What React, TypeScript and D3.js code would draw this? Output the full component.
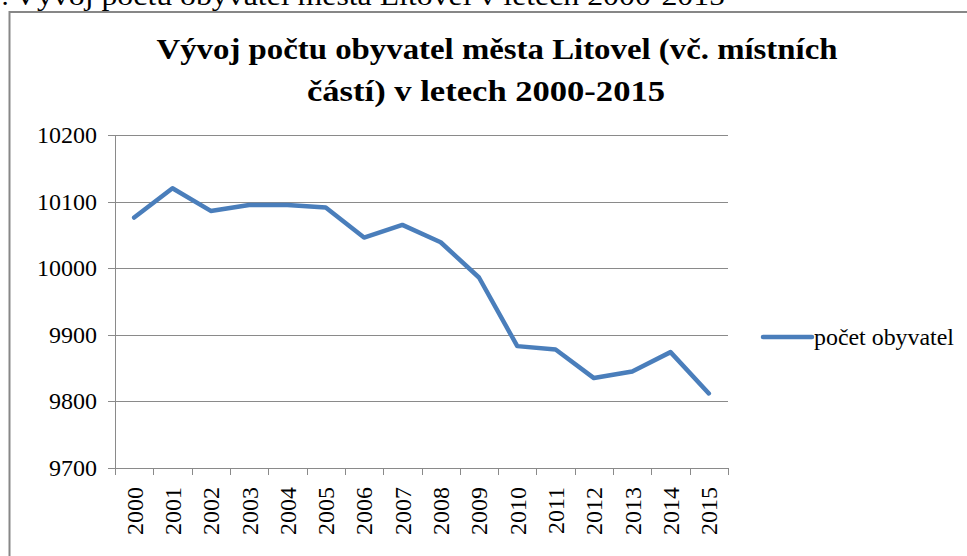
import React from "react";
import * as d3 from "d3";

const years = ["2000","2001","2002","2003","2004","2005","2006","2007","2008","2009","2010","2011","2012","2013","2014","2015"];
const population = [10076, 10120, 10086, 10095, 10095, 10091, 10046, 10065, 10039, 9986, 9883, 9878, 9835, 9845, 9874, 9812];
const yTicks = [9700, 9800, 9900, 10000, 10100, 10200];
const seriesName = "počet obyvatel";
const titleLines = ["Vývoj počtu obyvatel města Litovel (vč. místních", "částí) v letech 2000-2015"];
const caption = "Vývoj počtu obyvatel města Litovel v letech 2000-2015";

const serif = "\"Liberation Serif\", \"Times New Roman\", serif";

export default function App() {
  const W = 967, H = 556;
  const left = 115, right = 728, top = 135, bottom = 468;
  const x = d3.scaleBand<string>().domain(years).range([left, right]);
  const y = d3.scaleLinear().domain([9700, 10200]).range([bottom, top]);
  const data = years.map((yr, i) => ({ yr, v: population[i] }));
  const line = d3.line<{ yr: string; v: number }>()
    .x(d => (x(d.yr) as number) + x.bandwidth() / 2)
    .y(d => y(d.v));
  const tickXs = years.map(yr => x(yr) as number).concat([right]);
  const grid = "#8a8a8a";
  const ts: React.CSSProperties = { fontFamily: serif };
  return (
    <svg width={W} height={H} style={{ position: "absolute", left: 0, top: 0, background: "#fff" }}>
      <rect x={0} y={0} width={W} height={H} fill="#fff" />
      {/* caption cut at top */}
      <text x={9} y={5} textAnchor="end" fontSize={28} fill="#000" style={ts}>:</text>
      <text x={14} y={5} fontSize={28} fill="#000" style={ts} textLength={711} lengthAdjust="spacingAndGlyphs">{caption}</text>
      {/* chart border */}
      <rect x={9.5} y={12} width={1000} height={600} fill="#fff" stroke="#878787" strokeWidth={2} />
      {/* title */}
      <text x={497} y={59} textAnchor="middle" fontSize={30} fontWeight="bold" fill="#000" style={ts} textLength={681} lengthAdjust="spacingAndGlyphs">{titleLines[0]}</text>
      <text x={486} y={101} textAnchor="middle" fontSize={30} fontWeight="bold" fill="#000" style={ts} textLength={358} lengthAdjust="spacingAndGlyphs">{titleLines[1]}</text>
      {/* gridlines */}
      {yTicks.map(t => (
        <line key={"g" + t} x1={left} x2={right} y1={Math.round(y(t)) + 0.5} y2={Math.round(y(t)) + 0.5} stroke={grid} strokeWidth={1} />
      ))}
      {/* y axis */}
      <line x1={left + 0.5} x2={left + 0.5} y1={top} y2={bottom + 7} stroke={grid} strokeWidth={1} />
      {yTicks.map(t => (
        <g key={"yt" + t}>
          <line x1={left - 7} x2={left} y1={Math.round(y(t)) + 0.5} y2={Math.round(y(t)) + 0.5} stroke={grid} strokeWidth={1} />
          <text x={97} y={y(t)} dy="0.33em" textAnchor="end" fontSize={24} fill="#000" style={ts}>{t}</text>
        </g>
      ))}
      {/* x axis */}
      <line x1={left} x2={right} y1={bottom + 0.5} y2={bottom + 0.5} stroke={grid} strokeWidth={1} />
      {tickXs.map((tx, i) => (
        <line key={"xt" + i} x1={Math.round(tx) + 0.5} x2={Math.round(tx) + 0.5} y1={bottom} y2={bottom + 7} stroke={grid} strokeWidth={1} />
      ))}
      {years.map(yr => (
        <text key={"xl" + yr} transform={`translate(${(x(yr) as number) + x.bandwidth() / 2},487) rotate(-90)`} dy="0.35em" textAnchor="end" fontSize={24} fill="#000" style={ts}>{yr}</text>
      ))}
      {/* series */}
      <path d={line(data) || ""} fill="none" stroke="#4A7EBB" strokeWidth={4.5} strokeLinejoin="round" strokeLinecap="round" />
      {/* legend */}
      <line x1={763} x2={812} y1={337} y2={337} stroke="#4A7EBB" strokeWidth={4.5} strokeLinecap="round" />
      <text x={814} y={345} fontSize={24} fill="#000" style={ts} textLength={140} lengthAdjust="spacingAndGlyphs">{seriesName}</text>
    </svg>
  );
}
